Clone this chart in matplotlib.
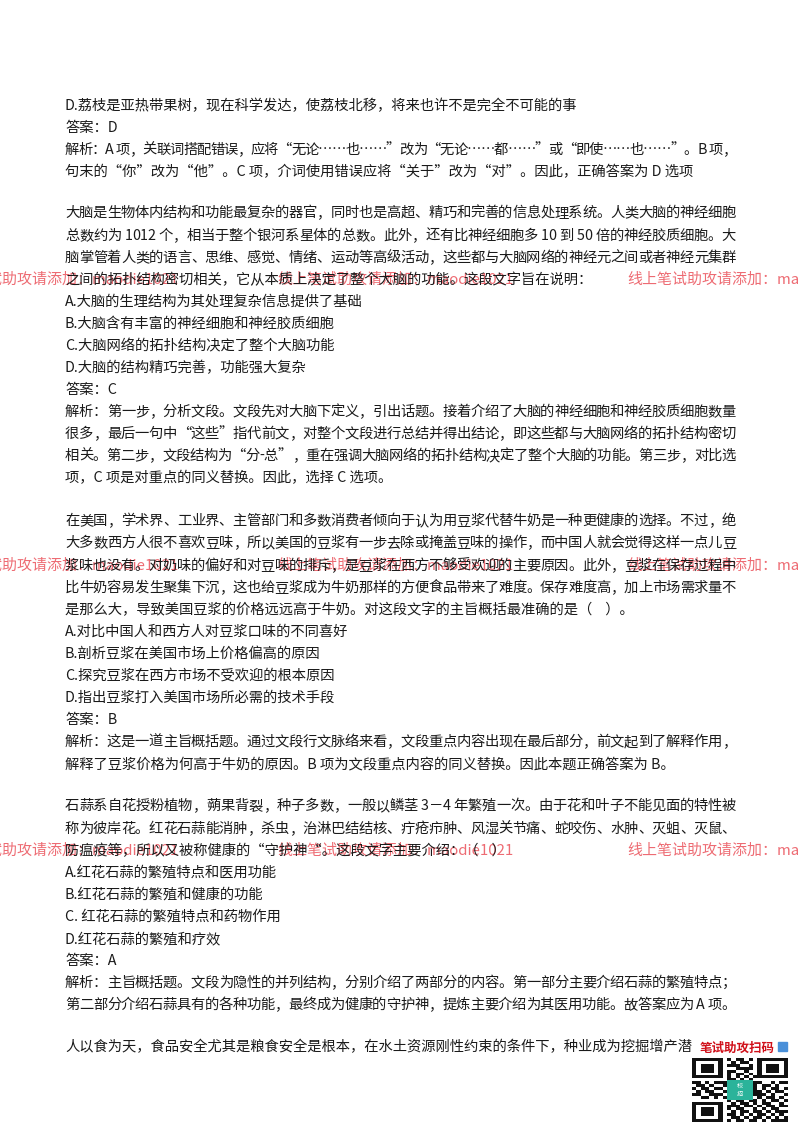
import matplotlib
matplotlib.use("Agg")
import matplotlib.pyplot as plt
from matplotlib.patches import Rectangle

plt.rcParams['font.family'] = ['Noto Sans CJK SC', 'DejaVu Sans']

lines = [
 (106, "D.荔枝是亚热带果树，现在科学发达，使荔枝北移，将来也许不是完全不可能的事"),
 (128, "答案：D"),
 (150, "解析：A 项，关联词搭配错误，应将“无论……也……”改为“无论……都……”或“即使……也……”。B 项，"),
 (172, "句末的“你”改为“他”。C 项，介词使用错误应将“关于”改为“对”。因此，正确答案为 D 选项"),
 (213, "大脑是生物体内结构和功能最复杂的器官，同时也是高超、精巧和完善的信息处理系统。人类大脑的神经细胞"),
 (236, "总数约为 1012 个，相当于整个银河系星体的总数。此外，还有比神经细胞多 10 到 50 倍的神经胶质细胞。大"),
 (258, "脑掌管着人类的语言、思维、感觉、情绪、运动等高级活动，这些都与大脑网络的神经元之间或者神经元集群"),
 (280, "之间的拓扑结构密切相关，它从本质上决定了整个大脑的功能。这段文字旨在说明："),
 (302, "A.大脑的生理结构为其处理复杂信息提供了基础"),
 (324, "B.大脑含有丰富的神经细胞和神经胶质细胞"),
 (346, "C.大脑网络的拓扑结构决定了整个大脑功能"),
 (368, "D.大脑的结构精巧完善，功能强大复杂"),
 (390, "答案：C"),
 (412, "解析：第一步，分析文段。文段先对大脑下定义，引出话题。接着介绍了大脑的神经细胞和神经胶质细胞数量"),
 (434, "很多，最后一句中“这些”指代前文，对整个文段进行总结并得出结论，即这些都与大脑网络的拓扑结构密切"),
 (456, "相关。第二步，文段结构为“分-总”，重在强调大脑网络的拓扑结构决定了整个大脑的功能。第三步，对比选"),
 (478, "项，C 项是对重点的同义替换。因此，选择 C 选项。"),
 (521, "在美国，学术界、工业界、主管部门和多数消费者倾向于认为用豆浆代替牛奶是一种更健康的选择。不过，绝"),
 (543, "大多数西方人很不喜欢豆味，所以美国的豆浆有一步去除或掩盖豆味的操作，而中国人就会觉得这样一点儿豆"),
 (566, "浆味也没有。对奶味的偏好和对豆味的排斥，是豆浆在西方不够受欢迎的主要原因。此外，豆浆在保存过程中"),
 (588, "比牛奶容易发生聚集下沉，这也给豆浆成为牛奶那样的方便食品带来了难度。保存难度高，加上市场需求量不"),
 (610, "是那么大，导致美国豆浆的价格远远高于牛奶。对这段文字的主旨概括最准确的是（    ）。"),
 (632, "A.对比中国人和西方人对豆浆口味的不同喜好"),
 (654, "B.剖析豆浆在美国市场上价格偏高的原因"),
 (676, "C.探究豆浆在西方市场不受欢迎的根本原因"),
 (698, "D.指出豆浆打入美国市场所必需的技术手段"),
 (720, "答案：B"),
 (742, "解析：这是一道主旨概括题。通过文段行文脉络来看，文段重点内容出现在最后部分，前文起到了解释作用，"),
 (764, "解释了豆浆价格为何高于牛奶的原因。B 项为文段重点内容的同义替换。因此本题正确答案为 B。"),
 (806, "石蒜系自花授粉植物，蒴果背裂，种子多数，一般以鳞茎 3－4 年繁殖一次。由于花和叶子不能见面的特性被"),
 (829, "称为彼岸花。红花石蒜能消肿，杀虫，治淋巴结结核、疔疮疖肿、风湿关节痛、蛇咬伤、水肿、灭蛆、灭鼠、"),
 (851, "防瘟疫等，所以又被称健康的“守护神“。这段文字主要介绍：（    ）"),
 (873, "A.红花石蒜的繁殖特点和医用功能"),
 (895, "B.红花石蒜的繁殖和健康的功能"),
 (917, "C. 红花石蒜的繁殖特点和药物作用"),
 (939, "D.红花石蒜的繁殖和疗效"),
 (961, "答案：A"),
 (983, "解析：主旨概括题。文段为隐性的并列结构，分别介绍了两部分的内容。第一部分主要介绍石蒜的繁殖特点；"),
 (1005, "第二部分介绍石蒜具有的各种功能，最终成为健康的守护神，提炼主要介绍为其医用功能。故答案应为 A 项。"),
 (1047, "人以食为天，食品安全尤其是粮食安全是根本，在水土资源刚性约束的条件下，种业成为挖掘增产潜"),
]
full_width_lines = {150, 213, 236, 258, 412, 434, 456, 521, 543, 566, 588, 742, 806, 829, 983, 1005}

W, H = 800, 1132
fig = plt.figure(figsize=(8, 11.32), dpi=100)
fig.patch.set_facecolor('white')
ax = fig.add_axes([0, 0, 1, 1])
ax.set_xlim(0, W); ax.set_ylim(H, 0); ax.axis('off')

# watermarks (behind text)
wm = "线上笔试助攻请添加：maodie1021"
for y in (280, 566, 851):
    for x in (-58, 277, 627):
        ax.text(x, y, wm, fontsize=10.8, color='#e83a44', alpha=0.75, va='center', ha='left', zorder=1)

fig.canvas.draw()
r = fig.canvas.get_renderer()
FS = 10.3
for y, s in lines:
    if y in full_width_lines:
        widths = []
        for ch in s:
            tt = ax.text(0, 0, ch, fontsize=FS)
            widths.append(tt.get_window_extent(r).width)
            tt.remove()
        target = 736 - 65
        extra = (target - sum(widths)) / max(len(s) - 1, 1)
        x = 65
        for ch, w in zip(s, widths):
            ax.text(x, y, ch, fontsize=FS, color='#1a1a1a', va='center', ha='left', zorder=2)
            x += w + extra
    else:
        ax.text(65, y, s, fontsize=FS, color='#1a1a1a', va='center', ha='left', zorder=2)

# QR code region
ax.text(700, 1048, "笔试助攻扫码", fontsize=9, color='#d0101a', fontweight='bold', va='center', ha='left')
ax.add_patch(Rectangle((778, 1042), 9, 9, color='#4a90d9'))
qx, qy, qw, qh = 692, 1058, 96, 64
pattern = [
 "1111111010110101111111",
 "1000001001011001000001",
 "1011101011100101011101",
 "1011101000111101011101",
 "1011101011001001011101",
 "1000001010110101000001",
 "1111111010101011111111",
 "0000000011010100000000",
 "1101011100111011001011",
 "0110100111010110110100",
 "1011011010000110101101",
 "0101100100000111010110",
 "1100111010000011101001",
 "0011010110000101011010",
 "0000000010110110101101",
 "1111111001011010110010",
 "1000001011101101011011",
 "1011101010110010101100",
 "1011101001011011010111",
 "1011101011010101101010",
 "1000001001101011010101",
 "1111111010110110101111",
]
cw, ch_ = qw / 22, qh / 22
for i, row in enumerate(pattern):
    for j, c in enumerate(row):
        if c == '1':
            ax.add_patch(Rectangle((qx + j*cw, qy + i*ch_), cw, ch_, color='#111111', lw=0))
ax.add_patch(Rectangle((qx + qw/2 - 13, qy + qh/2 - 10), 26, 20, color='#2bb39a', lw=0))
ax.text(qx + qw/2, qy + qh/2, "校\n招", fontsize=4.5, color='white', ha='center', va='center', linespacing=1.0)

fig.savefig("out.png", dpi=100, facecolor='white')
